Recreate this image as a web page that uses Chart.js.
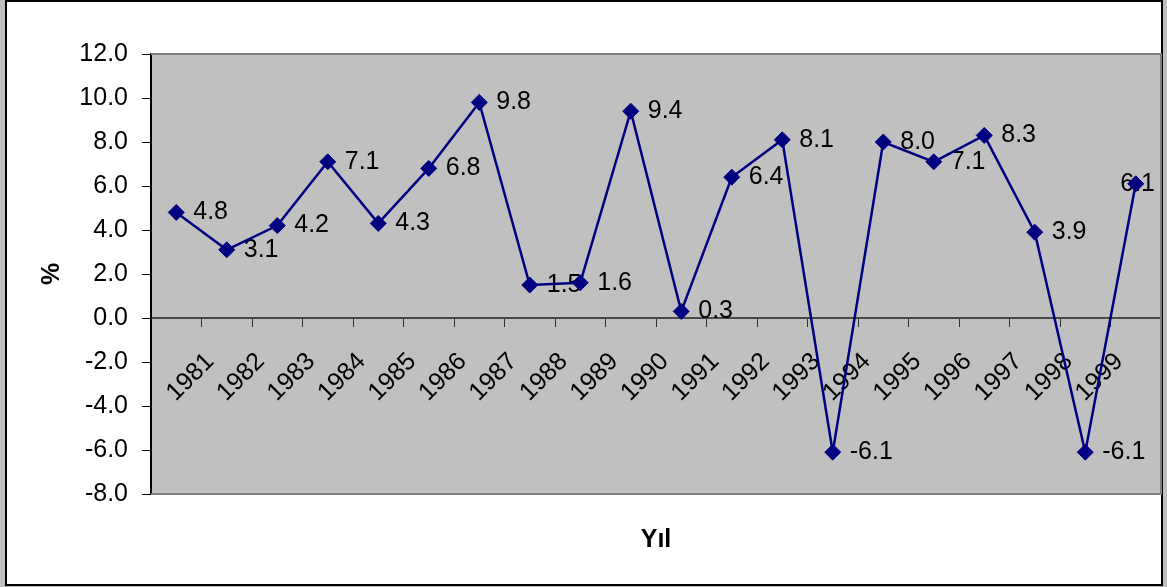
<!DOCTYPE html>
<html>
<head>
<meta charset="utf-8">
<title>Yıllık büyüme (%)</title>
<script src="https://cdn.jsdelivr.net/npm/chart.js@4"></script>
<style>
  html, body { margin: 0; padding: 0; background: #c0c0c0; }
  canvas { display: block; }
</style>
</head>
<body>
<canvas id="chart" width="1167" height="587"></canvas>
<script>
// Year labels along the category axis (the last slot carries no label)
const years = ['1981','1982','1983','1984','1985','1986','1987','1988','1989','1990',
               '1991','1992','1993','1994','1995','1996','1997','1998','1999'];
const categories = years.concat(['']);

// Annual growth, percent
const growth = [4.8, 3.1, 4.2, 7.1, 4.3, 6.8, 9.8, 1.5, 1.6, 9.4,
                0.3, 6.4, 8.1, -6.1, 8.0, 7.1, 8.3, 3.9, -6.1, 6.1];

// Value axis range
const yMin = -8;
const yMax = 12;
const yStep = 2;

const FONT = '"Liberation Sans", Arial, sans-serif';
const TEXT_SIZE = 25;

function drawPlotBorder(ctx, a) {
  ctx.strokeStyle = '#808080';
  ctx.lineWidth = 2;
  ctx.beginPath();
  ctx.moveTo(a.left, a.top);
  ctx.lineTo(a.right, a.top);
  ctx.lineTo(a.right, a.bottom);
  ctx.lineTo(a.left, a.bottom);
  ctx.stroke();
}

// Chart frame, grey plot area and its border
const framePlugin = {
  id: 'frame',
  beforeDraw(chart) {
    const ctx = chart.ctx;
    const a = chart.chartArea;
    ctx.save();
    ctx.fillStyle = '#c0c0c0';
    ctx.fillRect(0, 0, chart.width, chart.height);
    ctx.fillStyle = '#ffffff';
    ctx.fillRect(5, 0, 1158, 586);
    ctx.strokeStyle = '#000000';
    ctx.lineWidth = 2;
    ctx.strokeRect(6, 1, 1156, 584);
    ctx.fillStyle = '#c0c0c0';
    ctx.fillRect(a.left, a.top, a.right - a.left, a.bottom - a.top);
    drawPlotBorder(ctx, a);
    ctx.restore();
  },
  afterDraw(chart) {
    // keep the zero line inside the plot area on the right
    const ctx = chart.ctx;
    const a = chart.chartArea;
    ctx.save();
    ctx.fillStyle = '#ffffff';
    ctx.fillRect(a.right + 1, a.top + 2, 1161 - a.right - 1, a.bottom - a.top - 4);
    ctx.fillStyle = '#c0c0c0';
    ctx.fillRect(1163, 0, chart.width - 1163, chart.height);
    ctx.strokeStyle = '#000000';
    ctx.lineWidth = 2;
    ctx.beginPath();
    ctx.moveTo(1162, 0);
    ctx.lineTo(1162, 586);
    ctx.stroke();
    drawPlotBorder(ctx, a);
    ctx.restore();
  }
};

// Value labels to the right of each marker
const valueLabels = {
  id: 'valueLabels',
  beforeDatasetsDraw(chart) {
    const ctx = chart.ctx;
    const meta = chart.getDatasetMeta(0);
    const right = chart.chartArea.right - 6;
    ctx.save();
    ctx.font = TEXT_SIZE + 'px ' + FONT;
    ctx.fillStyle = '#000000';
    ctx.textAlign = 'left';
    ctx.textBaseline = 'middle';
    meta.data.forEach((pt, i) => {
      const txt = growth[i].toFixed(1);
      const w = ctx.measureText(txt).width;
      let x = pt.x + 17;
      if (x + w > right) x = right - w;
      ctx.fillText(txt, x, pt.y);
    });
    ctx.restore();
  }
};

// Axis titles
const axisTitles = {
  id: 'axisTitles',
  afterDraw(chart) {
    const ctx = chart.ctx;
    const a = chart.chartArea;
    ctx.save();
    ctx.font = 'bold 25px ' + FONT;
    ctx.fillStyle = '#000000';
    ctx.textAlign = 'center';
    ctx.textBaseline = 'middle';
    ctx.fillText('Yıl', (a.left + a.right) / 2, 540);
    ctx.translate(52, (a.top + a.bottom) / 2);
    ctx.rotate(-Math.PI / 2);
    ctx.fillText('%', 0, 0);
    ctx.restore();
  }
};

new Chart(document.getElementById('chart'), {
  type: 'line',
  data: {
    labels: categories,
    datasets: [{
      data: growth,
      borderColor: '#000080',
      borderWidth: 2.5,
      tension: 0,
      pointStyle: 'rectRot',
      pointRadius: 8,
      pointBackgroundColor: '#000080',
      pointBorderColor: '#000080',
      pointBorderWidth: 1,
      clip: false
    }]
  },
  options: {
    responsive: false,
    animation: false,
    devicePixelRatio: 1,
    layout: { autoPadding: false, padding: { left: 0, top: 54, right: 6, bottom: 93 } },
    plugins: { legend: { display: false }, tooltip: { enabled: false } },
    scales: {
      x: {
        type: 'category',
        position: { y: 0 },
        offset: true,
        afterFit(scale) {
          scale.height = 0;
          scale.paddingLeft = 0;
          scale.paddingRight = 0;
        },
        grid: { offset: true, drawOnChartArea: false, tickLength: 8, color: '#333333', lineWidth: 1 },
        border: { color: '#4a4a4a', width: 2 },
        ticks: {
          autoSkip: false,
          maxRotation: 45,
          minRotation: 45,
          labelOffset: 34,
          padding: 21,
          color: '#000000',
          font: { family: FONT, size: TEXT_SIZE }
        }
      },
      y: {
        min: yMin,
        max: yMax,
        afterFit(scale) { scale.width = 151; },
        grid: { drawOnChartArea: false, tickLength: 9, color: '#000000', lineWidth: 1 },
        border: { color: '#000000', width: 2 },
        ticks: {
          stepSize: yStep,
          padding: 14,
          color: '#000000',
          font: { family: FONT, size: TEXT_SIZE },
          callback: v => Number(v).toFixed(1)
        }
      }
    }
  },
  plugins: [framePlugin, valueLabels, axisTitles]
});
</script>
</body>
</html>
